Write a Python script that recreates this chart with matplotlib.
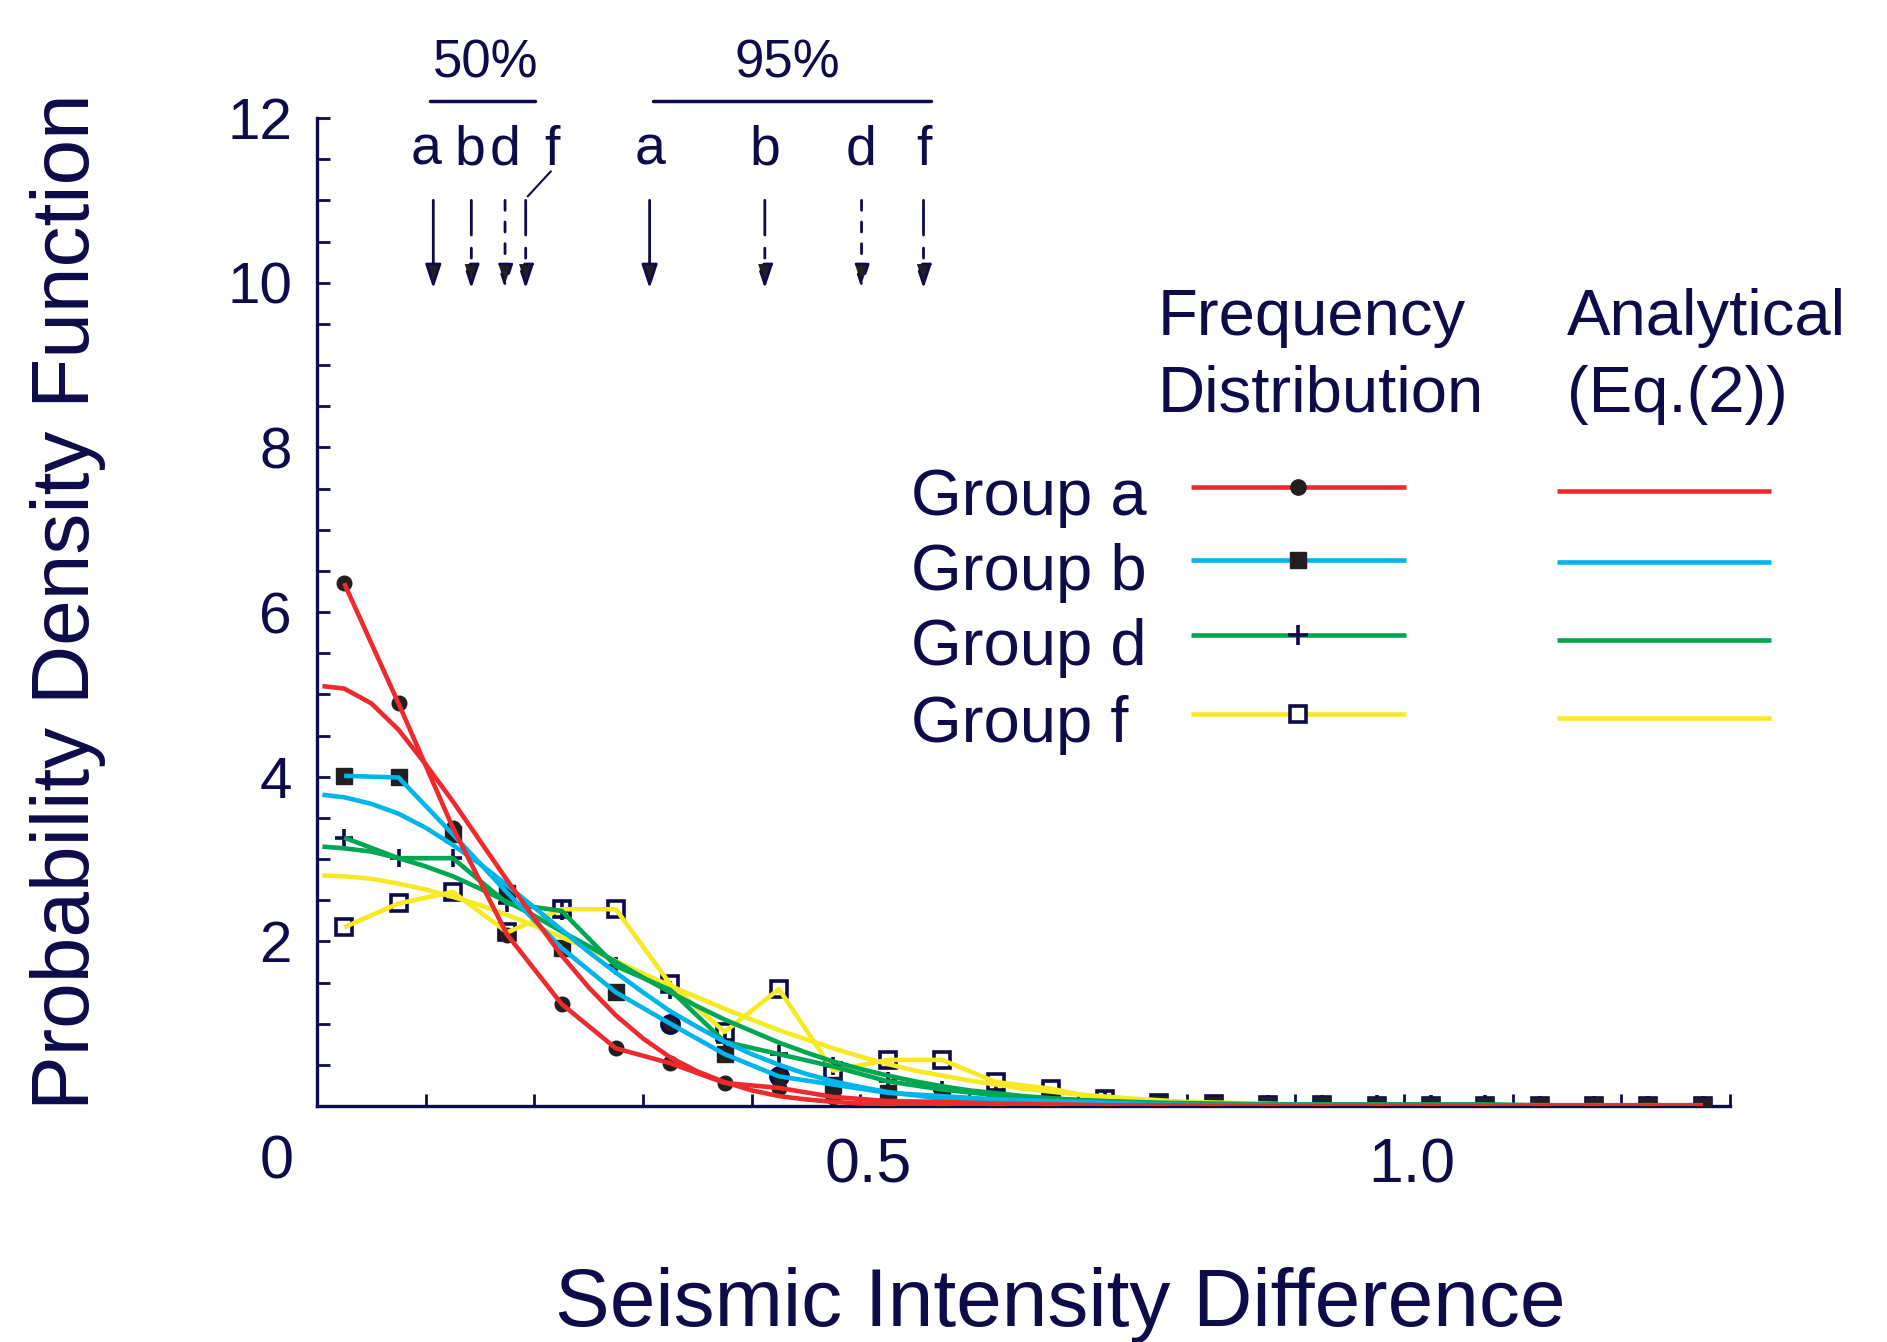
import matplotlib
matplotlib.use('Agg')
import matplotlib.pyplot as plt
import matplotlib.transforms as mtransforms

plt.rcParams['font.family'] = ['Liberation Sans', 'DejaVu Sans']

# ---------------- data ----------------
bin_centers = [0.025, 0.075, 0.125, 0.175, 0.225, 0.275, 0.325, 0.375, 0.425, 0.475,
               0.525, 0.575, 0.625, 0.675, 0.725, 0.775, 0.825, 0.875, 0.925, 0.975,
               1.025, 1.075, 1.125, 1.175, 1.225, 1.275]

freq_a = [6.35, 4.89, 3.38, 2.08, 1.24, 0.70, 0.52, 0.28, 0.22, 0.11,
          0.06, 0.05, 0.03, 0.02, 0.01, 0.01, 0.0, 0.0, 0.0, 0.0,
          0.0, 0.0, 0.0, 0.0, 0.0, 0.0]
freq_b = [4.01, 3.99, 3.30, 2.59, 1.92, 1.38, 1.00, 0.63, 0.36, 0.26,
          0.16, 0.12, 0.08, 0.06, 0.04, 0.02, 0.01, 0.01, 0.01, 0.0,
          0.0, 0.0, 0.0, 0.0, 0.0, 0.0]
freq_d = [3.26, 3.01, 3.01, 2.46, 2.37, 1.70, 1.41, 0.78, 0.63, 0.48,
          0.30, 0.20, 0.13, 0.09, 0.06, 0.04, 0.03, 0.02, 0.02, 0.02,
          0.02, 0.02, 0.01, 0.01, 0.01, 0.01]
freq_f = [2.17, 2.46, 2.60, 2.11, 2.39, 2.39, 1.48, 0.90, 1.42, 0.43,
          0.56, 0.56, 0.29, 0.21, 0.08, 0.04, 0.02, 0.01, 0.01, 0.0,
          0.0, 0.0, 0.0, 0.0, 0.0, 0.0]
# group b points drawn as circles in the original
b_circle_idx = [6, 8]

curve_x = [0.005, 0.025, 0.05, 0.075, 0.1, 0.125, 0.15, 0.175, 0.2, 0.225,
           0.25, 0.275, 0.3, 0.325, 0.35, 0.375, 0.4, 0.425, 0.45, 0.475,
           0.5, 0.525, 0.55, 0.575, 0.6, 0.65, 0.7, 0.75, 0.8, 0.9,
           1.0, 1.1, 1.2, 1.275]
curve_a = [5.10, 5.07, 4.89, 4.57, 4.15, 3.70, 3.22, 2.74, 2.28, 1.83,
           1.44, 1.10, 0.82, 0.59, 0.42, 0.29, 0.19, 0.12, 0.08, 0.05,
           0.03, 0.02, 0.01, 0.01, 0.0, 0.0, 0.0, 0.0, 0.0, 0.0,
           0.0, 0.0, 0.0, 0.0]
curve_b = [3.78, 3.75, 3.67, 3.55, 3.38, 3.17, 2.94, 2.68, 2.41, 2.14,
           1.87, 1.62, 1.38, 1.15, 0.96, 0.78, 0.63, 0.50, 0.39, 0.30,
           0.23, 0.17, 0.13, 0.09, 0.07, 0.03, 0.015, 0.01, 0.0, 0.0,
           0.0, 0.0, 0.0, 0.0]
curve_d = [3.15, 3.13, 3.09, 3.01, 2.91, 2.79, 2.64, 2.48, 2.31, 2.12,
           1.94, 1.75, 1.56, 1.38, 1.21, 1.05, 0.91, 0.77, 0.65, 0.54,
           0.45, 0.37, 0.30, 0.24, 0.19, 0.12, 0.07, 0.04, 0.02, 0.01,
           0.0, 0.0, 0.0, 0.0]
curve_f = [2.80, 2.79, 2.76, 2.70, 2.63, 2.54, 2.44, 2.32, 2.19, 2.05,
           1.91, 1.76, 1.61, 1.46, 1.32, 1.18, 1.05, 0.92, 0.81, 0.70,
           0.60, 0.51, 0.43, 0.37, 0.31, 0.21, 0.14, 0.09, 0.05, 0.02,
           0.01, 0.0, 0.0, 0.0]

group_names = ['a', 'b', 'd', 'f']
q50 = [0.107, 0.142, 0.173, 0.192]   # 50% values (arrows)
q95 = [0.306, 0.412, 0.501, 0.558]   # 95% values (arrows)

y_ticks = [2, 4, 6, 8, 10, 12]
x_ticks = [0.5, 1.0]
x_tick_labels = ['0.5', '1.0']

# ---------------- styles ----------------
W, H = 1887, 1342
navy = '#0d0b4a'
dark = '#231f20'
RED = '#ee2a2e'
BLUE = '#00b4ec'
GREEN = '#00a651'
YELLOW = '#f8e925'

fig = plt.figure(figsize=(W / 100, H / 100), dpi=100)
ax = fig.add_axes([317 / W, 1 - 1106 / H, (1730 - 317) / W, (1106 - 118) / H])
ax.set_xlim(0, 1.3)
ax.set_ylim(0, 12)
for s in ['top', 'right']:
    ax.spines[s].set_visible(False)
for s in ['left', 'bottom']:
    ax.spines[s].set_linewidth(2.4)
    ax.spines[s].set_color(navy)
    ax.spines[s].set_capstyle('projecting')

ax.set_xticks(x_ticks)
ax.set_xticklabels(x_tick_labels)
ax.set_xticks([0.1 * i for i in range(1, 14)], minor=True)
ax.set_yticks(y_ticks)
ax.set_yticklabels([str(v) for v in y_ticks])
ax.set_yticks([0.5 * i for i in range(1, 25)], minor=True)
ax.tick_params(which='both', direction='in', color=navy, width=2, length=9)
ax.tick_params(axis='x', which='major', pad=22, labelsize=45, labelcolor=navy)
ax.tick_params(axis='y', which='major', pad=18, labelsize=42, labelcolor=navy)
shift = mtransforms.ScaledTranslation(0.08, 0, fig.dpi_scale_trans)
for lbl in ax.get_xticklabels():
    lbl.set_transform(lbl.get_transform() + shift)

# ---------------- markers ----------------
ax.plot(bin_centers, freq_f, ls='none', marker='s', ms=11.5, mfc='white', mec=navy, mew=2.6, zorder=3)
ax.plot(bin_centers, freq_d, ls='none', marker='+', ms=13.5, mec=navy, mew=2.6, zorder=3.1)
sq_x = [x for i, x in enumerate(bin_centers) if i not in b_circle_idx]
sq_y = [y for i, y in enumerate(freq_b) if i not in b_circle_idx]
ax.plot(sq_x, sq_y, ls='none', marker='s', ms=11.5, mfc=dark, mec=dark, zorder=3.2)
ax.plot([bin_centers[i] for i in b_circle_idx], [freq_b[i] for i in b_circle_idx],
        ls='none', marker='o', ms=12.5, mfc=dark, mec=navy, mew=2.5, zorder=3.2)
ax.plot(bin_centers, freq_a, ls='none', marker='o', ms=10.5, mfc=dark, mec=dark, zorder=3.3)

# ---------------- lines ----------------
lw = 3.3
for xs, ys, c, z in [(curve_x, curve_f, YELLOW, 4), (bin_centers, freq_f, YELLOW, 4.1),
                     (curve_x, curve_d, GREEN, 5), (bin_centers, freq_d, GREEN, 5.1),
                     (curve_x, curve_b, BLUE, 6), (bin_centers, freq_b, BLUE, 6.1),
                     (curve_x, curve_a, RED, 7), (bin_centers, freq_a, RED, 7.1)]:
    ax.plot(xs, ys, color=c, lw=lw, zorder=z, solid_joinstyle='round', solid_capstyle='butt')

# ---------------- quantile arrows ----------------
styles = ['-', (0, (12.5, 4.7, 3.6, 3)), (0, (3.6, 4.2)), (0, (12.5, 4.7, 3.6, 3))]
for qs in (q50, q95):
    for x, st in zip(qs, styles):
        ax.annotate('', xy=(x, 9.93), xytext=(x, 11.0), xycoords='data',
                    arrowprops=dict(arrowstyle='-|>,head_length=0.72,head_width=0.24',
                                    mutation_scale=20, lw=2, ls=st, ec=navy, fc=dark,
                                    shrinkA=0, shrinkB=0),
                    annotation_clip=False)

txt_kw = dict(color=navy, clip_on=False)
ax.text(0.155, 12.66, '50%', ha='center', va='center', fontsize=38, **txt_kw)
ax.text(0.433, 12.66, '95%', ha='center', va='center', fontsize=38, **txt_kw)
ax.plot([0.104, 0.201], [12.21, 12.21], color=navy, lw=2.5, clip_on=False, solid_capstyle='round')
ax.plot([0.309, 0.565], [12.21, 12.21], color=navy, lw=2.5, clip_on=False, solid_capstyle='round')
for name, xl in zip(group_names, [0.100, 0.141, 0.173, 0.216]):
    ax.text(xl, 11.43, name, ha='center', va='baseline', fontsize=40, **txt_kw)
for name, xl in zip(group_names, q95):
    ax.text(xl, 11.43, name, ha='center', va='baseline', fontsize=40, **txt_kw)
ax.plot([0.215, 0.194], [11.35, 11.05], color=navy, lw=1.5, clip_on=False)

# ---------------- overlay (pixel coords) for labels & legend ----------------
lay = fig.add_axes([0, 0, 1, 1], zorder=10)
lay.set_xlim(0, W)
lay.set_ylim(H, 0)
lay.axis('off')
lay.patch.set_alpha(0)

lay.text(68, 602, 'Probability Density Function', rotation=90, ha='center', va='center',
         fontsize=59, color=navy)
lay.text(1060, 1326, 'Seismic Intensity Difference', ha='center', va='baseline',
         fontsize=59, color=navy)
lay.text(277, 1163, '0', ha='center', va='center', fontsize=44, color=navy)

lay.text(1158, 335, 'Frequency', ha='left', va='baseline', fontsize=47, color=navy)
lay.text(1158, 412, 'Distribution', ha='left', va='baseline', fontsize=47, color=navy)
lay.text(1567, 335, 'Analytical', ha='left', va='baseline', fontsize=47, color=navy)
lay.text(1567, 412, '(Eq.(2))', ha='left', va='baseline', fontsize=47, color=navy)

colors = [RED, BLUE, GREEN, YELLOW]
label_base = [515, 590, 665, 742]
freq_line_y = [487, 560, 635, 714]
ana_line_y = [491, 562, 640, 718]
marker_kw = [dict(marker='o', ms=11, mfc=dark, mec=dark),
             dict(marker='s', ms=12, mfc=dark, mec=dark),
             dict(marker='+', ms=14, mec=navy, mew=2.6),
             dict(marker='s', ms=12, mfc='white', mec=navy, mew=2.6)]
for name, c, yb, yf, ya, mk in zip(group_names, colors, label_base, freq_line_y, ana_line_y, marker_kw):
    lay.text(911, yb, 'Group ' + name, ha='left', va='baseline', fontsize=47, color=navy)
    lay.plot([1191, 1406], [yf, yf], color=c, lw=lw, solid_capstyle='butt')
    lay.plot([1298], [yf], ls='none', **mk)
    lay.plot([1557, 1771], [ya, ya], color=c, lw=lw, solid_capstyle='butt')

fig.savefig('out.png', dpi=100, facecolor='white')
